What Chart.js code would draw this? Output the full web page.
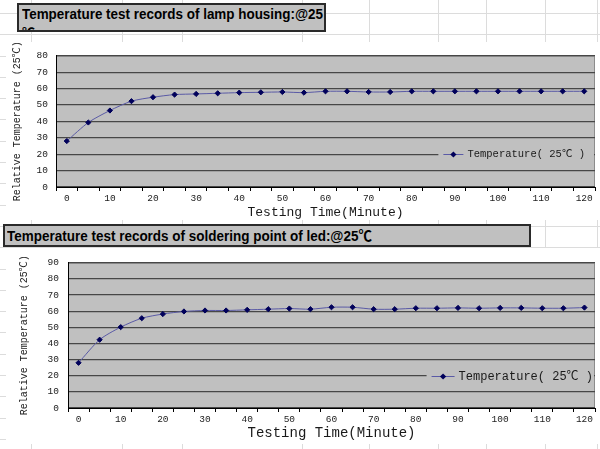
<!DOCTYPE html>
<html>
<head>
<meta charset="utf-8">
<script src="https://cdn.jsdelivr.net/npm/chart.js@4.4.1/dist/chart.umd.min.js"></script>
<style>
  body { margin: 0; width: 600px; height: 449px; position: relative; overflow: hidden; background: #fff; }
  .gl { position: absolute; background: #dcdcdc; }
  .panel { position: absolute; background: #fff; }
  .title { position: absolute; box-sizing: border-box; background: #c0c0c0; border: 2px solid #2a2a2a; overflow: hidden;
           font: bold 15px 'Liberation Sans', 'Noto Sans CJK SC', sans-serif; color: #000; }
  .title span { display: block; white-space: nowrap; line-height: 16px; width: max-content; transform-origin: 0 0; }
</style>
</head>
<body>

<div id="t1" class="title" style="left:17px;top:3px;width:309px;height:29px;padding:1px 0 0 3px">
  <span data-w="301">Temperature test records of lamp housing:@25</span>
  <span style="margin-top:3px;font-size:13px">℃</span>
</div>
<div class="panel" style="left:6px;top:42px;width:594px;height:178px">
  <canvas id="chartHousing" width="594" height="178"></canvas>
</div>

<div id="t2" class="title" style="left:3px;top:224px;width:528px;height:23px;padding:2px 0 0 2px">
  <span data-w="365">Temperature test records of soldering point of led:@25℃</span>
</div>
<div class="panel" style="left:6px;top:248px;width:594px;height:196px">
  <canvas id="chartSolder" width="594" height="196"></canvas>
</div>

<script>
// testing time, every 5 minutes
const minutes = ['0', '5', '10', '15', '20', '25', '30', '35', '40', '45', '50', '55', '60',
                 '65', '70', '75', '80', '85', '90', '95', '100', '105', '110', '115', '120'];

// lamp housing temperature
const housingTemps = [28.0, 39.3, 46.6, 52.3, 54.7, 56.3, 56.7, 57.1, 57.5, 57.7, 57.9, 57.5, 58.3,
                      58.3, 57.9, 57.9, 58.3, 58.3, 58.3, 58.3, 58.3, 58.3, 58.3, 58.3, 58.3];

// soldering point of led temperature
const solderTemps = [28.0, 42.3, 50.1, 55.6, 58.2, 59.8, 60.4, 60.4, 60.8, 61.2, 61.6, 61.2, 62.4,
                     62.4, 61.2, 61.2, 61.8, 61.8, 62.0, 61.8, 62.0, 62.0, 61.8, 61.8, 62.2];

const seriesLabel = 'Temperature( 25℃ )';
const yTitle = 'Relative Temperature (25℃)';
const xTitle = 'Testing Time(Minute)';
const monoFont = "'Liberation Mono', 'Noto Sans CJK SC', monospace";

// spreadsheet cell lines behind everything
const sheetCols = [31, 122, 182, 302, 369, 438, 486, 545, 597];
sheetCols.forEach(x => {
  const d = document.createElement('div');
  d.className = 'gl';
  d.style.cssText = 'left:' + x + 'px;top:0;width:1px;height:449px';
  document.body.insertBefore(d, document.body.firstChild);
});
for (let y = 439; y > 0; y -= 21.3) {
  const d = document.createElement('div');
  d.className = 'gl';
  d.style.cssText = 'left:0;top:' + Math.round(y) + 'px;width:600px;height:1px';
  document.body.insertBefore(d, document.body.firstChild);
}

// squeeze the title text to the width seen in the sheet
document.querySelectorAll('.title span[data-w]').forEach(s => {
  const w = s.getBoundingClientRect().width;
  s.style.transform = 'scaleX(' + (s.dataset.w / w) + ')';
});

// gray plot area, like the old Excel charts
const plotBg = {
  id: 'plotBg',
  beforeDraw(chart) {
    const { ctx, chartArea: a } = chart;
    ctx.save();
    ctx.fillStyle = '#c0c0c0';
    ctx.fillRect(a.left, a.top, a.width, a.height);
    ctx.strokeStyle = '#8c8c8c';
    ctx.lineWidth = 1;
    ctx.strokeRect(a.left + 0.5, a.top + 0.5, a.width - 1, a.height - 1);
    ctx.restore();
  }
};

// legend sitting inside the plot, on the 20 line
const insideLegend = {
  id: 'insideLegend',
  afterDatasetsDraw(chart, args, o) {
    const ctx = chart.ctx;
    const a = chart.chartArea;
    const ds = chart.data.datasets[0];
    const y = Math.round(chart.scales.y.getPixelForValue(o.value)) + 0.5;
    ctx.save();
    ctx.font = o.font;
    const tw = ctx.measureText(ds.label).width;
    const textX = a.right - o.rightGap - tw;
    const lineEnd = textX - 4;
    const lineStart = lineEnd - o.sample;
    ctx.fillStyle = '#c0c0c0';
    ctx.fillRect(lineStart - 5, y - 7, a.right - 1 - (lineStart - 5), 14);
    ctx.strokeStyle = ds.borderColor;
    ctx.lineWidth = 1;
    ctx.beginPath();
    ctx.moveTo(lineStart, y);
    ctx.lineTo(lineEnd, y);
    ctx.stroke();
    const cx = (lineStart + lineEnd) / 2, r = ds.pointRadius + 0.5;
    ctx.fillStyle = ds.pointBackgroundColor;
    ctx.beginPath();
    ctx.moveTo(cx, y - r);
    ctx.lineTo(cx + r, y);
    ctx.lineTo(cx, y + r);
    ctx.lineTo(cx - r, y);
    ctx.closePath();
    ctx.fill();
    ctx.fillStyle = '#1a1a1a';
    ctx.textBaseline = 'middle';
    ctx.fillText(ds.label, textX, y);
    ctx.restore();
  }
};

function makeChart(id, values, yMax, lay) {
  const ctx = document.getElementById(id).getContext('2d');
  return new Chart(ctx, {
    type: 'line',
    data: {
      labels: minutes,
      datasets: [{
        label: seriesLabel,
        data: values,
        borderColor: '#5a5aa6',
        borderWidth: 1,
        tension: 0.25,
        pointStyle: 'rectRot',
        pointRadius: 2.6,
        pointBackgroundColor: '#00005a',
        pointBorderColor: '#00005a',
        pointBorderWidth: 1
      }]
    },
    options: {
      responsive: false,
      animation: false,
      layout: { padding: { top: lay.top, right: lay.right, left: 0, bottom: 0 } },
      plugins: {
        legend: { display: false },
        tooltip: { enabled: false },
        insideLegend: { value: 20, font: lay.legendFont + 'px ' + monoFont, rightGap: lay.legendGap, sample: lay.sample }
      },
      scales: {
        x: {
          type: 'category',
          offset: true,
          grid: { offset: true, drawOnChartArea: false, drawTicks: true, tickLength: 4, color: '#000' },
          border: { color: '#000', width: 1 },
          ticks: {
            autoSkip: false,
            maxRotation: 0,
            padding: 2,
            color: '#222',
            font: { family: monoFont, size: 9.5 },
            callback: (v, i) => (i % 2 === 0 ? minutes[i] : '')
          },
          title: {
            display: true,
            text: xTitle,
            color: '#1a1a1a',
            font: { family: monoFont, size: lay.xTitleSize },
            padding: { top: 0, bottom: lay.xTitlePad }
          },
          afterFit(s) { s.height = lay.xHeight; }
        },
        y: {
          min: 0,
          max: yMax,
          grid: { color: '#474747', lineWidth: 1.2, drawTicks: false },
          border: { color: '#000', width: 1 },
          ticks: { stepSize: 10, padding: lay.tickPad, color: '#222', font: { family: monoFont, size: 9.5 } },
          title: {
            display: true,
            text: yTitle,
            color: '#1a1a1a',
            font: { family: monoFont, size: 10 },
            padding: { top: lay.yTitlePad, bottom: 0 }
          },
          afterFit(s) { s.width = lay.yWidth; }
        }
      }
    },
    plugins: [plotBg, insideLegend]
  });
}

makeChart('chartHousing', housingTemps, 80, {
  top: 10, right: 3, yWidth: 50, xHeight: 33, tickPad: 8, yTitlePad: 5,
  xTitleSize: 13, xTitlePad: 0, legendFont: 10.5, legendGap: 10, sample: 20
});

makeChart('chartSolder', solderTemps, 90, {
  top: 9, right: 5, yWidth: 62, xHeight: 36, tickPad: 9, yTitlePad: 12,
  xTitleSize: 14, xTitlePad: 2.6, legendFont: 12, legendGap: 2, sample: 23
});
</script>
</body>
</html>
